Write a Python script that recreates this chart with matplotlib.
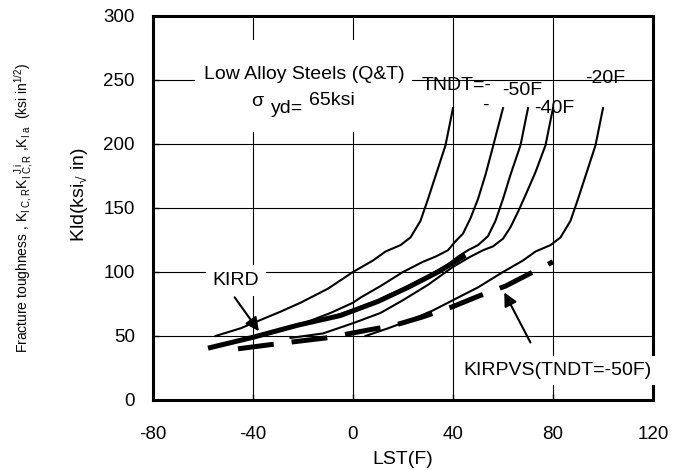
import matplotlib
matplotlib.use('Agg')
import matplotlib.pyplot as plt
from matplotlib.patches import Rectangle

plt.rcParams['font.family'] = ['Liberation Sans', 'DejaVu Sans']
plt.rcParams['mathtext.fontset'] = 'custom'
plt.rcParams['mathtext.rm'] = 'Liberation Sans'
plt.rcParams['mathtext.it'] = 'Liberation Sans'
plt.rcParams['mathtext.bf'] = 'Liberation Sans:bold'
plt.rcParams['axes.unicode_minus'] = False

# Kid curves for several TNDT values
c1_x = [-55, -45, -37, -29, -21, -10, 0, 8, 13, 19, 23, 27, 30, 33, 37, 40]
c1_y = [50, 56, 62.5, 69, 76, 87, 100, 109, 116, 121, 127, 140, 157, 175, 199, 228]
c2_x = [-37, -29, -17, -9, 0, 3, 11, 20, 28, 33, 38, 41, 44, 47, 50, 53, 56, 60]
c2_y = [50, 54, 62, 68, 76, 80, 89, 100, 108, 112, 117, 124, 130, 142, 157, 176, 198, 228]
c3_x = [-33, -22, -10, 0, 10, 20, 30, 38, 42, 46, 50, 54, 57, 60, 63, 67, 70]
c3_y = [53, 58.5, 64, 70.5, 78, 87, 97, 106, 112, 117, 121, 128, 140, 157, 176, 199, 228]
c4_x = [-25, -12, 0, 11, 20, 30, 40, 47, 52, 56, 60, 63, 66, 69, 73, 77, 80]
c4_y = [48.5, 52, 60, 68, 78, 90, 104, 112, 117, 120, 126, 135, 147, 160, 178, 199, 228]
c5_x = [5, 14, 23, 32, 40, 50, 60, 68, 73, 79, 83, 87, 90, 93, 97, 100]
c5_y = [50, 56, 62.5, 70, 78, 88, 100, 109, 116, 121, 127, 140, 157, 175, 199, 228]

kird_x = [-58, -40, -22, -5, 10, 22, 34, 45]
kird_y = [40.5, 49, 58.5, 66, 77, 88, 100, 113]

kirpvs_x = [-46, -30, -10, 7, 16, 28, 40, 50, 61, 70, 80]
kirpvs_y = [40, 44, 48.7, 55, 58, 65, 73, 81, 89, 98, 108]

x_ticks = [-80, -40, 0, 40, 80, 120]
y_ticks = [0, 50, 100, 150, 200, 250, 300]

fig = plt.figure(figsize=(6.84, 4.70), dpi=100)
ax = fig.add_axes([153/684, 1-400/470, 500/684, 384/470])

for cx, cy in [(c1_x, c1_y), (c2_x, c2_y), (c3_x, c3_y), (c4_x, c4_y), (c5_x, c5_y)]:
    ax.plot(cx, cy, color='k', lw=1.5, zorder=3)
ax.plot(kird_x, kird_y, color='k', lw=3.6, solid_capstyle='butt', zorder=3)
ax.plot(kirpvs_x, kirpvs_y, color='k', lw=3.6, dashes=(7.2, 3.6), zorder=3)

ax.set_xlim(-80, 120)
ax.set_ylim(0, 300)
ax.set_xticks(x_ticks)
ax.set_yticks(y_ticks)
ax.grid(True, color='k', lw=0.8)
ax.set_axisbelow(True)
ax.tick_params(direction='in', length=4, width=1, labelsize=13.5)
ax.tick_params(axis='y', pad=13)
ax.tick_params(axis='x', pad=19)
for s in ax.spines.values():
    s.set_linewidth(2.2)

# white text box for the material note
ax.add_patch(Rectangle((-63.2, 209), 86.8, 72, facecolor='white', edgecolor='none', zorder=2))
ax.text(-19.5, 254.5, 'Low Alloy Steels (Q&T)', fontsize=14, ha='center', va='center', zorder=4)
ax.text(-38.4, 233.5, 'σ', fontsize=14, ha='center', va='center', zorder=4)
ax.text(-26.4, 228, 'yd=', fontsize=14, ha='center', va='center', zorder=4)
ax.text(-8.4, 234, '65ksi', fontsize=14, ha='center', va='center', zorder=4)

ax.text(27.5, 246, 'TNDT=-', fontsize=14, ha='left', va='center', zorder=4)
ax.text(67.6, 242, '-50F', fontsize=14, ha='center', va='center', zorder=4)
ax.text(52.8, 230, '-', fontsize=14, ha='center', va='center', zorder=4)
ax.text(80.4, 228, '-40F', fontsize=14, ha='center', va='center', zorder=4)
ax.text(100.8, 251, '-20F', fontsize=14, ha='center', va='center', zorder=4)

ax.text(-46.8, 93.5, 'KIRD', fontsize=14, ha='center', va='center', zorder=4,
        bbox=dict(facecolor='white', edgecolor='none', pad=5))
ax.annotate('', xy=(-37, 52), xytext=(-48, 82),
            arrowprops=dict(arrowstyle='-|>', color='k', lw=1.5, mutation_scale=20), zorder=4)

ax.text(44, 23, 'KIRPVS(TNDT=-50F)', fontsize=14, ha='left', va='center', zorder=6,
        clip_on=False, bbox=dict(facecolor='white', edgecolor='none', pad=4))
ax.annotate('', xy=(60, 86), xytext=(71.5, 43),
            arrowprops=dict(arrowstyle='-|>', color='k', lw=1.5, mutation_scale=20), zorder=4)

fig.text(403/684, 1-460/470, 'LST(F)', fontsize=14, ha='center', va='center')
fig.text(80/684, 1-195/470, r'Kld(ksi$_{√}$ in)', fontsize=14, rotation=90, ha='center', va='center')
fig.text(24/684, 1-208/470,
         r'Fracture toughness , K$_{\mathrm{I\ C,R}}$K$_{\mathrm{I\ C,R}}^{\mathrm{\ \ J\ i}}$ ,K$_{\mathrm{I\ a}}$  (ksi in$^{\mathrm{1/2}}$)',
         fontsize=10, rotation=90, ha='center', va='center')

fig.savefig('out.png', dpi=100)
